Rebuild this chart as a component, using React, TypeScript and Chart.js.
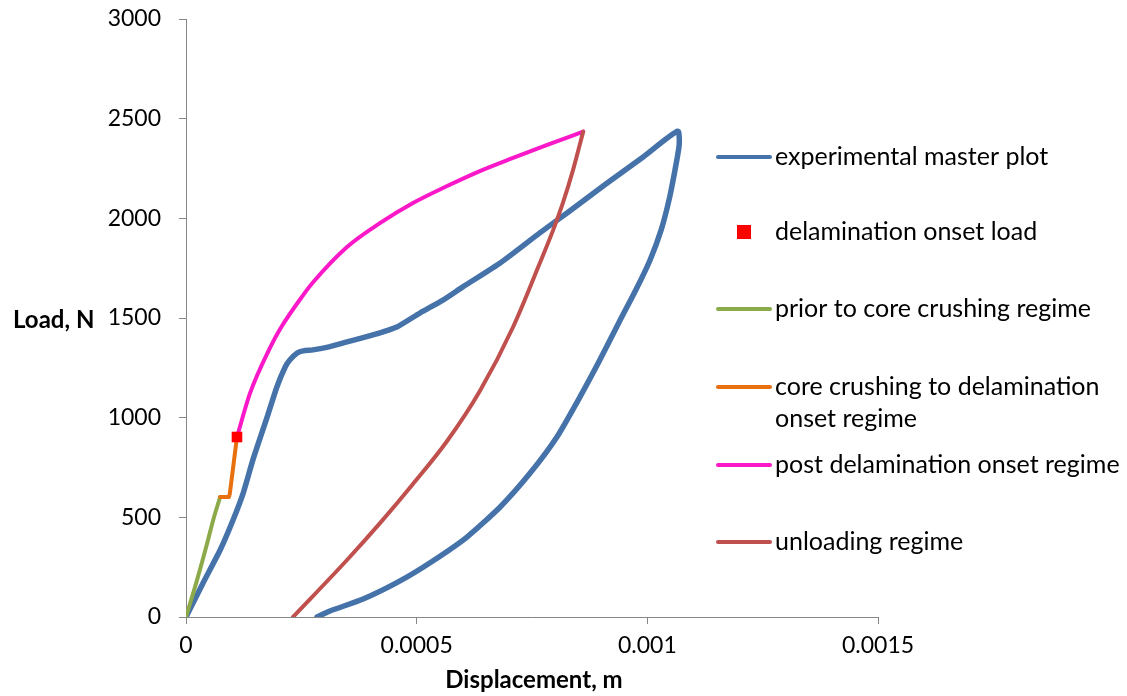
import React, { useEffect, useRef } from 'react';
import { Chart, registerables } from 'chart.js';

Chart.register(...registerables);

// ---- data (displacement in m, load in N) ----
const expX = [0, 3.7e-5, 7.4e-5, 1.02e-4, 1.24e-4, 1.45e-4, 1.76e-4, 1.97e-4, 2.15e-4, 2.25e-4, 2.41e-4, 2.54e-4, 2.75e-4, 3.1e-4, 3.49e-4, 4.05e-4, 4.57e-4, 5.07e-4, 5.57e-4, 6.0e-4, 6.81e-4, 7.67e-4, 8.26e-4, 9.13e-4, 9.91e-4, 1.066e-3, 1.069e-3, 1.06e-3, 1.047e-3, 1.03e-3, 1.006e-3, 9.75e-4, 9.39e-4, 8.97e-4, 8.54e-4, 8.04e-4, 7.46e-4, 6.81e-4, 6.09e-4, 5.35e-4, 4.64e-4, 3.84e-4, 3.12e-4, 2.84e-4];
const expY = [0, 171, 336, 487, 622, 788, 1004, 1154, 1254, 1289, 1324, 1335, 1340, 1355, 1380, 1415, 1455, 1525, 1590, 1656, 1776, 1927, 2027, 2177, 2308, 2437, 2368, 2243, 2092, 1942, 1791, 1640, 1480, 1289, 1104, 903, 722, 552, 401, 281, 181, 90, 30, 0];

const onsetX = [1.105e-4];
const onsetY = [903];

const priorX = [0, 2.4e-5, 4.6e-5, 5.9e-5, 7.4e-5];
const priorY = [0, 186, 371, 487, 602];

const crushX = [7.4e-5, 9.3e-5, 9.5e-5, 1.105e-4];
const crushY = [602, 602, 620, 903];

const postX = [1.105e-4, 1.39e-4, 1.82e-4, 2.04e-4, 2.54e-4, 2.75e-4, 3.49e-4, 4.21e-4, 4.92e-4, 5.66e-4, 6.37e-4, 7.09e-4, 7.83e-4, 8.61e-4];
const postY = [903, 1124, 1350, 1445, 1615, 1678, 1856, 1977, 2077, 2162, 2237, 2303, 2368, 2435];

const unloadX = [2.32e-4, 3.49e-4, 4.21e-4, 4.92e-4, 5.66e-4, 6.37e-4, 7.09e-4, 7.67e-4, 7.96e-4, 8.17e-4, 8.39e-4, 8.61e-4];
const unloadY = [0, 286, 472, 667, 883, 1134, 1455, 1776, 1942, 2077, 2243, 2435];

const xTickLabels = ['0', '0.0005', '0.001', '0.0015'];
const yTickLabels = ['0', '500', '1000', '1500', '2000', '2500', '3000'];

const seriesNames = [
  'experimental master plot',
  'delamination onset load',
  'prior to core crushing regime',
  'core crushing to delamination\nonset regime',
  'post delamination onset regime',
  'unloading regime',
];
const seriesColors = ['#4572A9', '#FF0000', '#8DAA4B', '#E8700F', '#FA18C8', '#C0504D'];

const xAxisTitle = 'Displacement, m';
const yAxisTitle = 'Load, N';

const FONT = 'Lato, "Open Sans", sans-serif';

const zip = (xs: number[], ys: number[]) => xs.map((x, i) => ({ x, y: ys[i] }));

const overlayPlugin = {
  id: 'overlay',
  afterDraw(chart: any) {
    const ctx = chart.ctx as CanvasRenderingContext2D;
    const area = chart.chartArea;
    ctx.save();
    // axis titles
    ctx.fillStyle = '#000';
    ctx.font = `bold 24px ${FONT}`;
    ctx.textBaseline = 'middle';
    ctx.textAlign = 'center';
    ctx.fillText(xAxisTitle, (area.left + area.right) / 2 + 2, 680);
    ctx.textAlign = 'left';
    ctx.fillText(yAxisTitle, 13, chart.scales.y.getPixelForValue(1500) + 2);

    // legend
    const rowY = [157, 232, 309, 387, 465, 542];
    const lineX0 = 718;
    const lineX1 = 770;
    const textX = 775;
    ctx.font = `25px ${FONT}`;
    seriesNames.forEach((name, i) => {
      const y = rowY[i];
      ctx.fillStyle = seriesColors[i];
      ctx.strokeStyle = seriesColors[i];
      if (i === 1) {
        ctx.fillRect(737, y - 7, 14, 14);
      } else {
        ctx.lineWidth = 4;
        ctx.lineCap = 'round';
        ctx.beginPath();
        ctx.moveTo(lineX0, y);
        ctx.lineTo(lineX1, y);
        ctx.stroke();
      }
      ctx.fillStyle = '#000';
      ctx.textAlign = 'left';
      ctx.textBaseline = 'middle';
      name.split('\n').forEach((ln, j) => ctx.fillText(ln, textX, y + j * 32));
    });
    ctx.restore();
  },
};

export default function App() {
  const ref = useRef<HTMLCanvasElement>(null);
  useEffect(() => {
    document.body.style.margin = '0';
    const canvas = ref.current!;
    const lineDs = (label: string, xs: number[], ys: number[], color: string, width: number, order: number, smooth: 'monotone' | number) => ({
      label,
      data: zip(xs, ys),
      showLine: true,
      borderColor: color,
      backgroundColor: color,
      borderWidth: width,
      pointRadius: 0,
      tension: smooth === 'monotone' ? 0.4 : smooth,
      cubicInterpolationMode: smooth === 'monotone' ? 'monotone' : 'default',
      borderCapStyle: 'round',
      borderJoinStyle: 'round',
      order,
    });
    const chart = new Chart(canvas, {
      type: 'scatter',
      data: {
        datasets: [
          lineDs(seriesNames[0], expX, expY, seriesColors[0], 5.5, 6, 0.2),
          {
            label: seriesNames[1],
            data: zip(onsetX, onsetY),
            showLine: false,
            pointStyle: 'rect',
            pointRadius: 7.5,
            pointBackgroundColor: seriesColors[1],
            pointBorderColor: seriesColors[1],
            pointBorderWidth: 0,
            order: 0,
          },
          lineDs(seriesNames[2], priorX, priorY, seriesColors[2], 4, 4, 'monotone'),
          lineDs(seriesNames[3], crushX, crushY, seriesColors[3], 4, 3, 0),
          lineDs(seriesNames[4], postX, postY, seriesColors[4], 4, 2, 'monotone'),
          lineDs(seriesNames[5], unloadX, unloadY, seriesColors[5], 4, 1, 'monotone'),
        ] as any,
      },
      options: {
        animation: false,
        responsive: false,
        maintainAspectRatio: false,
        layout: { padding: { left: 0, right: 249, top: 19, bottom: 0 } },
        plugins: { legend: { display: false }, tooltip: { enabled: false } },
        scales: {
          x: {
            type: 'linear',
            min: 0,
            max: 0.0015,
            afterBuildTicks: (s: any) => {
              s.ticks = xTickLabels.map((t) => ({ value: parseFloat(t) }));
            },
            afterFit: (s: any) => {
              s.height = 79;
            },
            ticks: {
              callback: (_v: any, i: number) => xTickLabels[i],
              color: '#000',
              font: { family: FONT, size: 23 },
              padding: 8,
              maxRotation: 0,
              autoSkip: false,
            },
            grid: { drawOnChartArea: false, drawTicks: true, tickLength: 7, color: '#868686', lineWidth: 1 },
            border: { display: true, color: '#868686', width: 1 },
          },
          y: {
            type: 'linear',
            min: 0,
            max: 3000,
            afterBuildTicks: (s: any) => {
              s.ticks = yTickLabels.map((t) => ({ value: parseFloat(t) }));
            },
            afterFit: (s: any) => {
              s.width = 186;
            },
            ticks: {
              callback: (_v: any, i: number) => yTickLabels[i],
              color: '#000',
              font: { family: FONT, size: 23, lineHeight: 0.05 },
              padding: 18,
              autoSkip: false,
            },
            grid: { drawOnChartArea: false, drawTicks: true, tickLength: 7, color: '#868686', lineWidth: 1 },
            border: { display: true, color: '#868686', width: 1 },
          },
        },
      },
      plugins: [overlayPlugin],
    });
    return () => chart.destroy();
  }, []);
  return <canvas ref={ref} width={1127} height={696} style={{ display: 'block' }} />;
}
